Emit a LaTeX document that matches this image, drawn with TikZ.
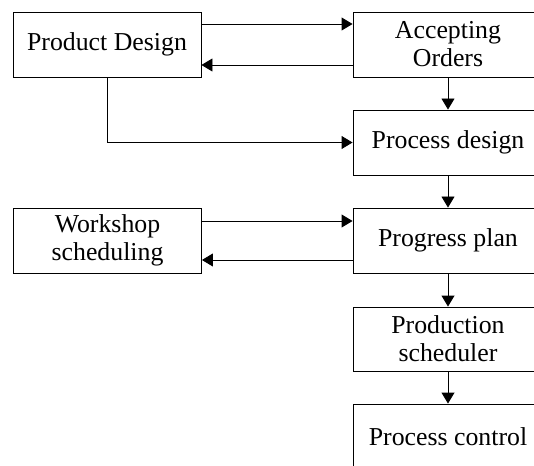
\documentclass[tikz,border=0pt]{standalone}
\usepackage{fontspec}
\setmainfont{Liberation Serif}
\usetikzlibrary{arrows.meta}
\begin{document}
\begin{tikzpicture}[x=1bp,y=-1bp,
  box/.style={draw, line width=0.9bp, inner sep=0pt, align=center,
    font=\fontsize{25.8bp}{28bp}\selectfont},
  leftbox/.style={box, minimum width=188bp, minimum height=65bp},
  rightbox/.style={box, minimum width=190bp, minimum height=65bp},
  arr/.style={line width=0.9bp, -{Triangle[length=11bp,width=13bp]}}]
\useasboundingbox (0,0) rectangle (534,466);
\clip (0,0) rectangle (534,466);
\node[leftbox] (pd) at (107,44.5) {Product Design};
\node[leftbox] (ws) at (107.5,240.5) {Workshop\\scheduling};
\node[rightbox] (ao) at (448,44.5) {Accepting\\Orders};
\node[rightbox] (pdes) at (448,142.5) {Process design};
\node[rightbox] (pp) at (448,240.5) {Progress plan};
\node[rightbox, minimum height=64bp] (ps) at (448,339) {Production\\scheduler};
\node[rightbox] (pc) at (448,436.5) {Process control};
\draw[arr] ([yshift=20.5bp]pd.east) -- ([yshift=20.5bp]ao.west);
\draw[arr] ([yshift=-20.5bp]ao.west) -- ([yshift=-20.5bp]pd.east);
\draw[arr] (pd.south) |- (pdes.west);
\draw[arr] ([yshift=19.5bp]ws.east) -- ([yshift=19.5bp]pp.west);
\draw[arr] ([yshift=-19.5bp]pp.west) -- ([yshift=-19.5bp]ws.east);
\draw[arr] (ao.south) -- (pdes.north);
\draw[arr] (pdes.south) -- (pp.north);
\draw[arr] (pp.south) -- (ps.north);
\draw[arr] (ps.south) -- (pc.north);
\end{tikzpicture}
\end{document}
